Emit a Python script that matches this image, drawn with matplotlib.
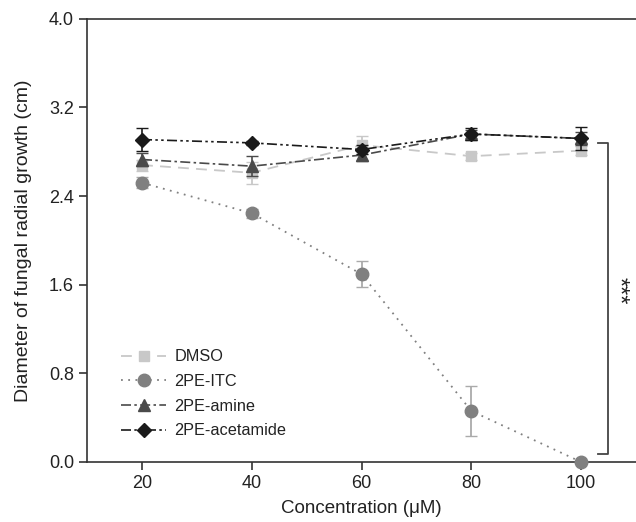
import matplotlib.pyplot as plt

conc = [20, 40, 60, 80, 100]

dmso = [2.68, 2.61, 2.86, 2.76, 2.81]
dmso_err = [0.05, 0.10, 0.08, 0.03, 0.04]

itc = [2.52, 2.245, 1.695, 0.46, 0.0]
itc_err = [0.05, 0.04, 0.115, 0.225, 0.0]

amine = [2.73, 2.67, 2.77, 2.96, 2.92]
amine_err = [0.06, 0.09, 0.05, 0.04, 0.06]

acet = [2.91, 2.88, 2.82, 2.96, 2.92]
acet_err = [0.10, 0.02, 0.04, 0.05, 0.10]

yticks = [0.0, 0.8, 1.6, 2.4, 3.2, 4.0]

plt.rcParams["font.family"] = ["Liberation Sans", "DejaVu Sans"]
txt = "#222222"

fig = plt.figure(figsize=(6.36, 5.22), dpi=100)
ax = fig.add_axes([0.137, 0.115, 0.863, 0.849])

c1 = ax.errorbar(conc, dmso, yerr=dmso_err, color="#c8c8c8", ecolor="#c8c8c8",
                 ls=(0, (6, 4)), lw=1.3, marker="s", ms=7, capsize=4,
                 label="DMSO", zorder=2, clip_on=False)
c2 = ax.errorbar(conc, itc, yerr=itc_err, color="#808080", ecolor="#aaaaaa",
                 ls=(0, (1, 3)), lw=1.3, marker="o", ms=9, capsize=4,
                 label="2PE-ITC", zorder=3, clip_on=False)
c3 = ax.errorbar(conc, amine, yerr=amine_err, color="#4a4a4a", ecolor="#4a4a4a",
                 ls=(0, (6, 2, 1.5, 2)), lw=1.2, marker="^", ms=8, capsize=4,
                 label="2PE-amine", zorder=4, clip_on=False)
c4 = ax.errorbar(conc, acet, yerr=acet_err, color="#1a1a1a", ecolor="#1a1a1a",
                 ls=(0, (6, 2, 1.5, 2, 1.5, 2)), lw=1.2, marker="D", ms=7,
                 capsize=4, label="2PE-acetamide", zorder=5, clip_on=False)

# significance bracket
bx = 104.9
ax.plot([103.1, bx, bx, 103.1], [2.88, 2.88, 0.07, 0.07], color="#444444",
        lw=1.3, clip_on=False)
ax.text(bx + 1.8, 1.55, "***", rotation=-90, ha="center", va="center",
        fontsize=17, color=txt)

ax.set_xlim(10, 110)
ax.set_ylim(0, 4.0)
ax.set_xticks(conc)
ax.set_yticks(yticks)
ax.set_yticklabels([f"{v:.1f}" for v in yticks])

ax.spines["right"].set_visible(False)
for s in ["left", "bottom", "top"]:
    ax.spines[s].set_color("#333333")
    ax.spines[s].set_linewidth(1.2)

ax.tick_params(direction="out", length=6, width=1.2, colors="#333333",
               labelcolor=txt, labelsize=13)

ax.set_xlabel("Concentration (μM)", fontsize=13.5, color=txt, labelpad=6)
ax.set_ylabel("Diameter of fungal radial growth (cm)", fontsize=14,
              color=txt, labelpad=12)

handles = [c[0] for c in (c1, c2, c3, c4)]
labels = ["DMSO", "2PE-ITC", "2PE-amine", "2PE-acetamide"]
ax.legend(handles, labels, loc="lower left", bbox_to_anchor=(0.035, 0.02),
          frameon=False, fontsize=11.7, handlelength=2.8, handletextpad=0.5,
          labelspacing=0.6, labelcolor=txt)

fig.savefig("out.png", dpi=100)
